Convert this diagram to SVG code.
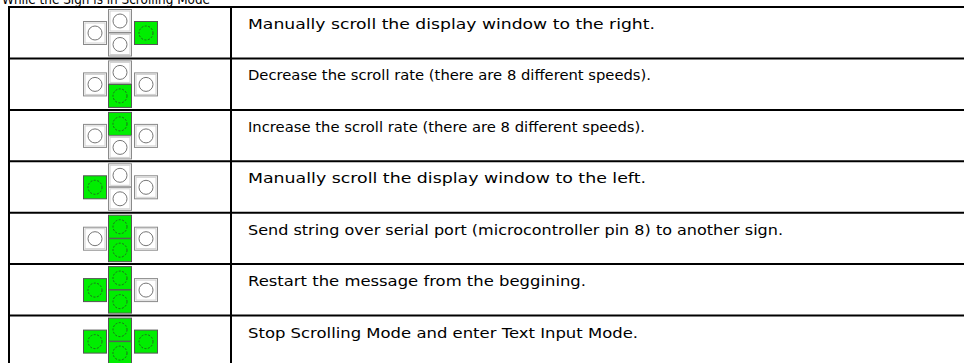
<svg xmlns="http://www.w3.org/2000/svg" width="964" height="363" viewBox="0 0 964 363">
<style>
.t{font-family:"Comic Sans MS","DejaVu Sans",sans-serif;font-size:14px;fill:#000}
.ln{stroke:#000;stroke-width:2;fill:none}
.b{fill:#fff;stroke:#8a8a8a;stroke-width:1}
.bi{fill:none;stroke:#d0d0d0;stroke-width:1}
.c{fill:none;stroke:#777;stroke-width:1}
.g{fill:#00ee00;stroke:#555;stroke-width:1}
.gc{fill:none;stroke:#226622;stroke-width:1;stroke-dasharray:2 1.5}
</style>
<defs>
<g id="off"><rect class="b" x="0.5" y="0.5" width="23" height="23"/><rect class="bi" x="2" y="2" width="20" height="20"/><circle class="c" cx="12" cy="12" r="7"/></g>
<g id="on"><rect class="g" x="0.5" y="0.5" width="23" height="23"/><circle class="gc" cx="12" cy="12" r="7"/></g>
</defs>
<text class="t" x="2" y="4" font-size="15" textLength="208" lengthAdjust="spacingAndGlyphs">While the Sign is in Scrolling Mode</text>
<g id="table">
<line class="ln" x1="8" y1="7" x2="964" y2="7"/>
<line class="ln" x1="8" y1="58.4" x2="964" y2="58.4"/>
<line class="ln" x1="8" y1="109.9" x2="964" y2="109.9"/>
<line class="ln" x1="8" y1="161.3" x2="964" y2="161.3"/>
<line class="ln" x1="8" y1="212.7" x2="964" y2="212.7"/>
<line class="ln" x1="8" y1="264.1" x2="964" y2="264.1"/>
<line class="ln" x1="8" y1="315.6" x2="964" y2="315.6"/>
<line class="ln" x1="9" y1="6" x2="9" y2="363"/>
<line class="ln" x1="231" y1="6" x2="231" y2="363"/>
</g>
<g id="row1" transform="translate(0,7)">
<use href="#off" x="83" y="14"/><use href="#off" x="108" y="2"/><use href="#off" x="108" y="25.5"/><use href="#on" x="134" y="14"/>
<text class="t" x="248" y="22" textLength="407" lengthAdjust="spacingAndGlyphs">Manually scroll the display window to the right.</text>
</g>
<g id="row2" transform="translate(0,58.4)">
<use href="#off" x="83" y="14"/><use href="#off" x="108" y="2"/><use href="#on" x="108" y="25.5"/><use href="#off" x="134" y="14"/>
<text class="t" x="248" y="22" textLength="403" lengthAdjust="spacingAndGlyphs">Decrease the scroll rate (there are 8 different speeds).</text>
</g>
<g id="row3" transform="translate(0,109.9)">
<use href="#off" x="83" y="14"/><use href="#on" x="108" y="2"/><use href="#off" x="108" y="25.5"/><use href="#off" x="134" y="14"/>
<text class="t" x="248" y="22" textLength="397" lengthAdjust="spacingAndGlyphs">Increase the scroll rate (there are 8 different speeds).</text>
</g>
<g id="row4" transform="translate(0,161.3)">
<use href="#on" x="83" y="14"/><use href="#off" x="108" y="2"/><use href="#off" x="108" y="25.5"/><use href="#off" x="134" y="14"/>
<text class="t" x="248" y="22" textLength="398" lengthAdjust="spacingAndGlyphs">Manually scroll the display window to the left.</text>
</g>
<g id="row5" transform="translate(0,212.7)">
<use href="#off" x="83" y="14"/><use href="#on" x="108" y="2"/><use href="#on" x="108" y="25.5"/><use href="#off" x="134" y="14"/>
<text class="t" x="248" y="22" textLength="535" lengthAdjust="spacingAndGlyphs">Send string over serial port (microcontroller pin 8) to another sign.</text>
</g>
<g id="row6" transform="translate(0,264.1)">
<use href="#on" x="83" y="14"/><use href="#on" x="108" y="2"/><use href="#on" x="108" y="25.5"/><use href="#off" x="134" y="14"/>
<text class="t" x="248" y="22" textLength="338" lengthAdjust="spacingAndGlyphs">Restart the message from the beggining.</text>
</g>
<g id="row7" transform="translate(0,315.6)">
<use href="#on" x="83" y="14"/><use href="#on" x="108" y="2"/><use href="#on" x="108" y="25.5"/><use href="#on" x="134" y="14"/>
<text class="t" x="248" y="22" textLength="390" lengthAdjust="spacingAndGlyphs">Stop Scrolling Mode and enter Text Input Mode.</text>
</g>
</svg>
